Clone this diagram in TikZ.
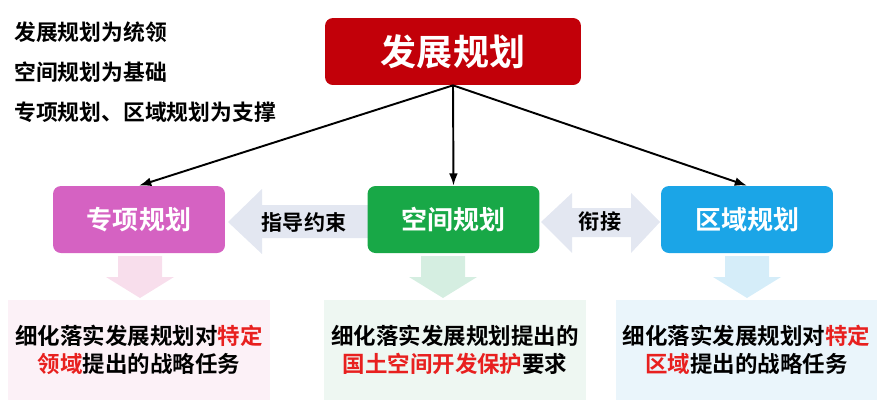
\documentclass[tikz,border=0pt]{standalone}
\usepackage{fontspec}
\setmainfont{Noto Sans CJK SC}[BoldFont={Noto Sans CJK SC Bold}]
\usepackage{xcolor}
\usetikzlibrary{arrows.meta}
\definecolor{planred}{HTML}{C20009}
\definecolor{zxpink}{HTML}{D562C2}
\definecolor{kjgreen}{HTML}{18A847}
\definecolor{qyblue}{HTML}{1BA5E7}
\definecolor{linkgray}{HTML}{E3E7F1}
\definecolor{zxlight}{HTML}{FCF1F7}
\definecolor{kjlight}{HTML}{EEF7F2}
\definecolor{qylight}{HTML}{EAF5FB}
\definecolor{zxdown}{HTML}{F8DEEC}
\definecolor{kjdown}{HTML}{D5EEE1}
\definecolor{qydown}{HTML}{D5EDF9}
\definecolor{hlred}{HTML}{E8201F}

\begin{document}
\begin{tikzpicture}[x=0.02cm,y=-0.02cm,>={Latex[length=7pt,width=5pt]},
  planbox/.style={rounded corners=4.5pt,text=white,
    font=\bfseries\fontsize{14.8}{16}\selectfont,
    minimum width=3.44cm,minimum height=1.34cm},
  taskbox/.style={align=center,inner sep=0pt,
    font=\bfseries\fontsize{12.8}{16}\selectfont,
    minimum width=5.24cm,minimum height=2cm},
  notetext/.style={anchor=west,inner sep=0pt,
    font=\bfseries\fontsize{12.4}{14}\selectfont},
  linktext/.style={inner sep=0pt,font=\bfseries\fontsize{12}{14}\selectfont}]
  \useasboundingbox (0,0) rectangle (885,400);
  % side notes
  \node[notetext] (note1) at (14,32) {发展规划为统领};
  \node[notetext] (note2) at (14,72) {空间规划为基础};
  \node[notetext] (note3) at (14,112) {专项规划、区域规划为支撑};
  % wide arrows between the boxes
  \fill[linkgray] (228,222) -- (262,189) -- (262,205) -- (370,205)
    -- (370,238) -- (262,238) -- (262,254) -- cycle;
  \fill[linkgray] (541,222) -- (572,193) -- (572,208) -- (631,208)
    -- (631,193) -- (660,222) -- (631,253) -- (631,237) -- (572,237)
    -- (572,253) -- cycle;
  % down arrows
  \fill[zxdown] (118,256) -- (162,256) -- (162,277) -- (174,277)
    -- (140,298) -- (106,277) -- (118,277) -- cycle;
  \fill[kjdown] (421,256) -- (465,256) -- (465,277) -- (477,277)
    -- (443,298) -- (409,277) -- (421,277) -- cycle;
  \fill[qydown] (725,256) -- (769,256) -- (769,277) -- (781,277)
    -- (747,298) -- (713,277) -- (725,277) -- cycle;
  % boxes
  \node[planbox,fill=planred,minimum width=5.12cm,
    font=\bfseries\fontsize{20.5}{22}\selectfont] (fzgh) at (453,51.5) {发展规划};
  \node[planbox,fill=zxpink] (zxgh) at (139,219.5) {专项规划};
  \node[planbox,fill=kjgreen] (kjgh) at (453.5,219.5) {空间规划};
  \node[planbox,fill=qyblue] (qygh) at (747,219.5) {区域规划};
  \node[linktext] (zdys) at (304,222) {指导约束};
  \node[linktext] (xj) at (600,222) {衔接};
  \draw[->,line width=1.1pt] (fzgh.south) -- (zxgh.north);
  \draw[->,line width=1.1pt] (fzgh.south) -- (kjgh.north);
  \draw[->,line width=1.1pt] (fzgh.south) -- (qygh.north);
  % tasks
  \node[taskbox,fill=zxlight] (zxrw) at (139,350)
    {细化落实发展规划对\textcolor{hlred}{特定}\\\textcolor{hlred}{领域}提出的战略任务};
  \node[taskbox,fill=kjlight] (kjrw) at (455,350)
    {细化落实发展规划提出的\\\textcolor{hlred}{国土空间开发保护}要求};
  \node[taskbox,fill=qylight] (qyrw) at (746.5,350)
    {细化落实发展规划对\textcolor{hlred}{特定}\\\textcolor{hlred}{区域}提出的战略任务};
\end{tikzpicture}
\end{document}
